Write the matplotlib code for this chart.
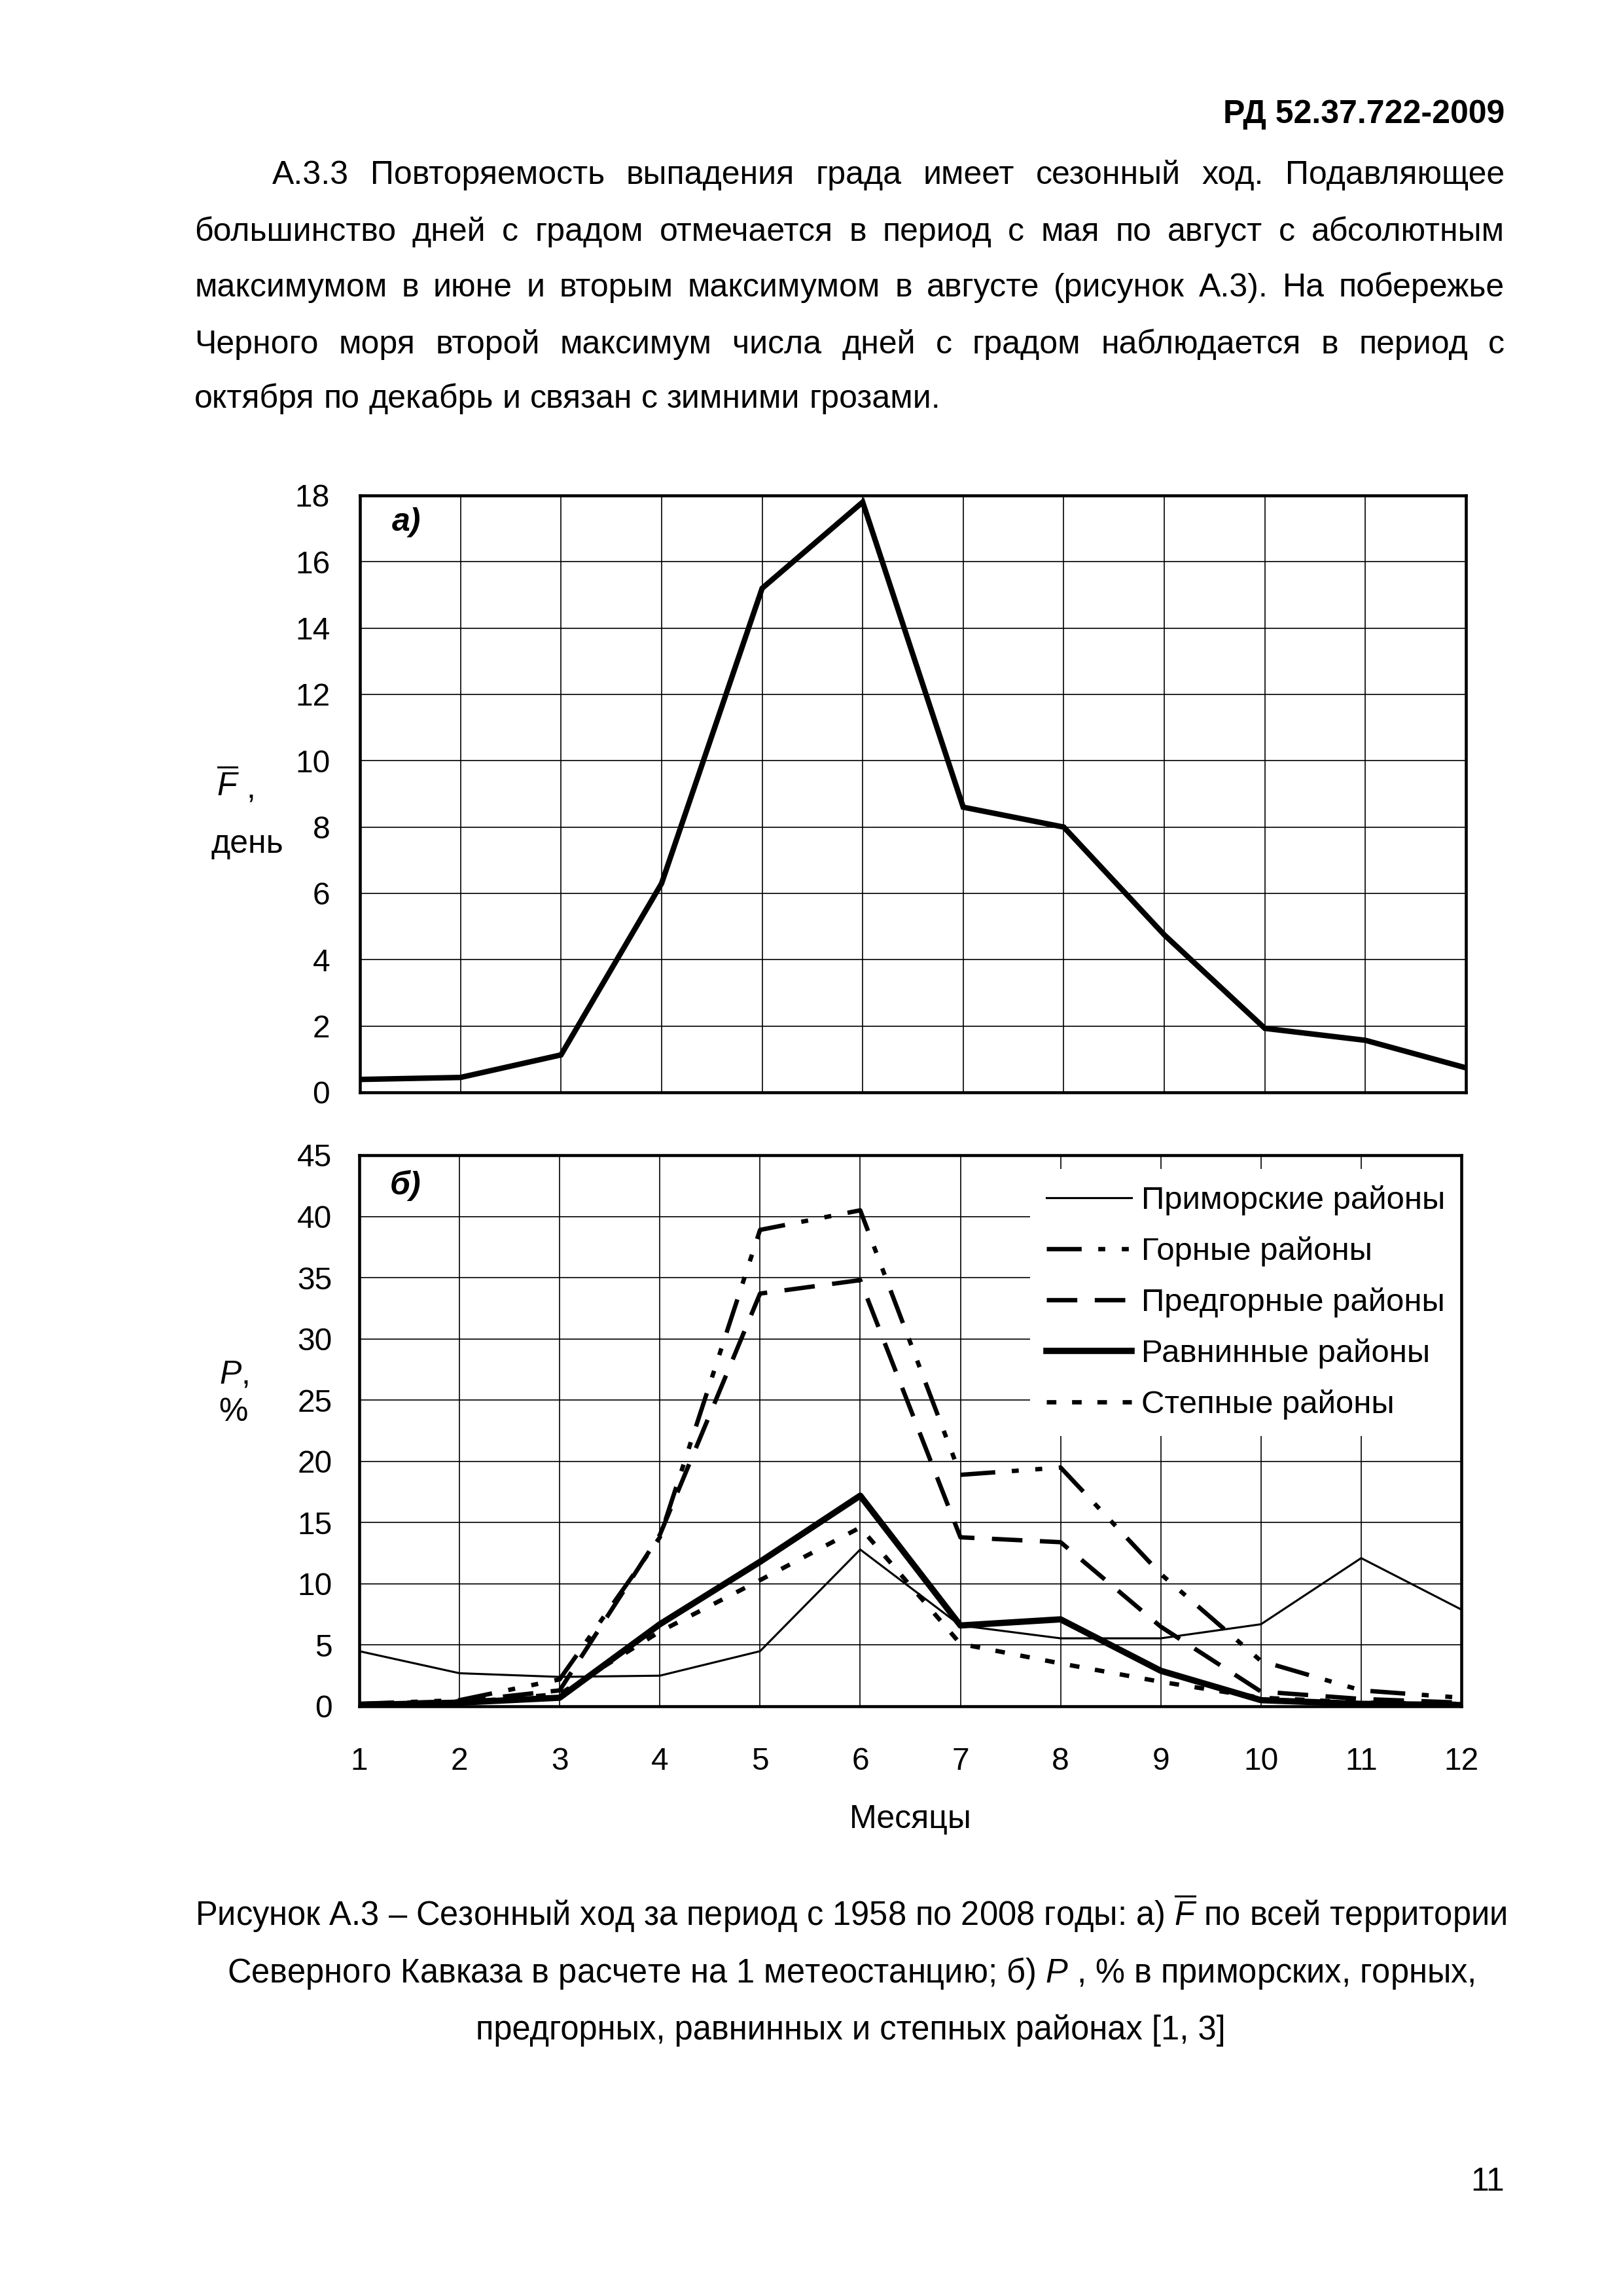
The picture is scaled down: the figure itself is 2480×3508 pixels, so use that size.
import matplotlib
matplotlib.use("Agg")
import matplotlib.pyplot as plt
import numpy as np

plt.rcParams['font.family'] = ['Liberation Sans', 'DejaVu Sans']
plt.rcParams['mathtext.fontset'] = 'custom'
plt.rcParams['mathtext.rm'] = 'Liberation Sans'
plt.rcParams['mathtext.it'] = 'Liberation Sans:italic'
plt.rcParams['mathtext.bf'] = 'Liberation Sans:bold'

# ---------------- data ----------------
months = list(range(1, 13))
month_labels = [str(m) for m in months]

F_days = [0.39, 0.45, 1.13, 6.3, 15.2, 17.8, 8.6, 8.0, 4.75, 1.93, 1.57, 0.74]

primorskie = [4.5, 2.7, 2.4, 2.5, 4.5, 12.8, 6.6, 5.55, 5.55, 6.7, 12.1, 7.9]
gornye     = [0.2, 0.5, 2.2, 13.8, 38.9, 40.5, 18.9, 19.5, 10.8, 3.7, 1.3, 0.7]
predgornye = [0.2, 0.4, 1.3, 14.0, 33.7, 34.8, 13.8, 13.4, 6.5, 1.2, 0.6, 0.3]
ravninnye  = [0.1, 0.3, 0.7, 6.7, 11.8, 17.2, 6.6, 7.1, 2.9, 0.5, 0.2, 0.1]
stepnye    = [0.1, 0.3, 1.0, 6.1, 10.3, 14.6, 5.1, 3.5, 2.0, 0.7, 0.3, 0.2]

series_names = ["Приморские районы", "Горные районы", "Предгорные районы",
                "Равнинные районы", "Степные районы"]

top_yticks = list(range(0, 19, 2))
bot_yticks = list(range(0, 46, 5))

# ---------------- figure ----------------
W, H = 2480, 3508
fig = plt.figure(figsize=(W / 300, H / 300), dpi=300)

def fx(px):
    return px / W

def fy(py):
    return 1 - py / H

TICK_FS = 11.5
TEXT_FS = 12
LEG_FS = 11.8

grid_kw = dict(color='black', linewidth=0.4)

# top axes
ax1 = fig.add_axes([fx(550), fy(1669), fx(2240) - fx(550), fy(757) - fy(1669)])
ax1.plot(months, F_days, color='black', linewidth=2.0, solid_joinstyle='miter', zorder=3)
ax1.set_xlim(1, 12)
ax1.set_ylim(0, 18)
ax1.set_xticks(months)
ax1.set_xticklabels([])
ax1.set_yticks(top_yticks)
ax1.set_yticklabels([str(v) for v in top_yticks])
ax1.grid(True, **grid_kw)
ax1.tick_params(axis='both', length=0, labelsize=TICK_FS, pad=11)
for s in ax1.spines.values():
    s.set_linewidth(1.1)
ax1.text(0.042, 0.955, "а)", transform=ax1.transAxes, fontsize=12,
         fontweight='bold', fontstyle='italic', ha='center', va='center')

# bottom axes
ax2 = fig.add_axes([fx(549), fy(2607), fx(2233) - fx(549), fy(1765) - fy(2607)])
l1, = ax2.plot(months, primorskie, color='black', linewidth=0.75, zorder=3)
l2, = ax2.plot(months, gornye, color='black', linewidth=1.6,
               linestyle=(0, (8, 3.8, 1.6, 3.8, 1.6, 3.8)), zorder=3)
l3, = ax2.plot(months, predgornye, color='black', linewidth=1.6,
               linestyle=(0, (7, 4)), zorder=3)
l4, = ax2.plot(months, ravninnye, color='black', linewidth=2.3, zorder=3)
l5, = ax2.plot(months, stepnye, color='black', linewidth=1.6,
               linestyle=(0, (2.2, 3.6)), zorder=3)
ax2.set_xlim(1, 12)
ax2.set_ylim(0, 45)
ax2.set_xticks(months)
ax2.set_xticklabels(month_labels)
ax2.set_yticks(bot_yticks)
ax2.set_yticklabels([str(v) for v in bot_yticks])
ax2.grid(True, **grid_kw)
ax2.tick_params(axis='y', length=0, labelsize=TICK_FS, pad=10)
ax2.tick_params(axis='x', length=0, labelsize=TICK_FS, pad=15)
for s in ax2.spines.values():
    s.set_linewidth(1.1)
    s.set_zorder(6)
ax2.text(0.042, 0.945, "б)", transform=ax2.transAxes, fontsize=12,
         fontweight='bold', fontstyle='italic', ha='center', va='center')

leg = ax2.legend([l1, l2, l3, l4, l5], series_names, loc='upper right',
                 bbox_to_anchor=(1.0, 0.975), fontsize=LEG_FS,
                 frameon=True, facecolor='white', edgecolor='none', framealpha=1,
                 fancybox=False, handlelength=2.6 * 12 / LEG_FS,
                 handletextpad=0.3 * 12 / LEG_FS,
                 labelspacing=0.64 * 12 / LEG_FS, borderpad=0.5 * 12 / LEG_FS,
                 borderaxespad=0.0)
leg.set_zorder(5)

fig.text(fx(1391), fy(2780), "Месяцы", fontsize=TEXT_FS, ha='center', va='center')

# y-labels
fig.text(fx(348), fy(1200), r"$\overline{F}$", fontsize=TEXT_FS, ha='center', va='center')
fig.text(fx(383), fy(1205), ",", fontsize=TEXT_FS, ha='center', va='center')
fig.text(fx(378), fy(1290), "день", fontsize=TEXT_FS, ha='center', va='center')
fig.text(fx(357), fy(2100), r"$P$,", fontsize=TEXT_FS, ha='center', va='center')
fig.text(fx(356), fy(2158), "%", fontsize=TEXT_FS, ha='center', va='center')

# ---------------- page text ----------------
fig.text(fx(2299), fy(188), "РД 52.37.722-2009", fontsize=TEXT_FS, fontweight='bold',
         ha='right', va='baseline')

body_lines = [
    "А.3.3 Повторяемость выпадения града имеет сезонный ход. Подавляющее",
    "большинство дней с градом отмечается в период с мая по август с абсолютным",
    "максимумом в июне и вторым максимумом в августе (рисунок А.3). На побережье",
    "Черного моря второй максимум числа дней с градом наблюдается в период с",
    "октября по декабрь и связан с зимними грозами.",
]
body_x0 = [416, 297, 297, 297, 297]
body_base = [281, 368, 453, 540, 623]
X_RIGHT = 2299

renderer = fig.canvas.get_renderer()

def text_w(s, fs=TEXT_FS):
    t = fig.text(0, 0, s, fontsize=fs)
    w = t.get_window_extent(renderer).width
    t.remove()
    return w

space_w = text_w("a a") - text_w("aa")

for i, line in enumerate(body_lines):
    words = line.split(" ")
    widths = [text_w(w) for w in words]
    last = (i == len(body_lines) - 1)
    if last:
        gap = space_w
    else:
        gap = (X_RIGHT - body_x0[i] - sum(widths)) / (len(words) - 1)
    x = body_x0[i]
    for w, wd in zip(words, widths):
        fig.text(fx(x), fy(body_base[i]), w, fontsize=TEXT_FS, ha='left', va='baseline')
        x += wd + gap

caption = [
    r"Рисунок А.3 – Сезонный ход за период с 1958 по 2008 годы: а) $\overline{F}$ по всей территории",
    r"Северного Кавказа в расчете на 1 метеостанцию; б) $P$ , % в приморских, горных,",
    "предгорных, равнинных и степных районах [1, 3]",
]
cap_base = [2942, 3029, 3116]
for line, b in zip(caption, cap_base):
    fig.text(fx(1300), fy(b), line, fontsize=12.15, ha='center', va='baseline')

fig.text(fx(2299), fy(3347), "11", fontsize=TEXT_FS, ha='right', va='baseline')

fig.savefig("out.png", dpi=300, facecolor='white')
